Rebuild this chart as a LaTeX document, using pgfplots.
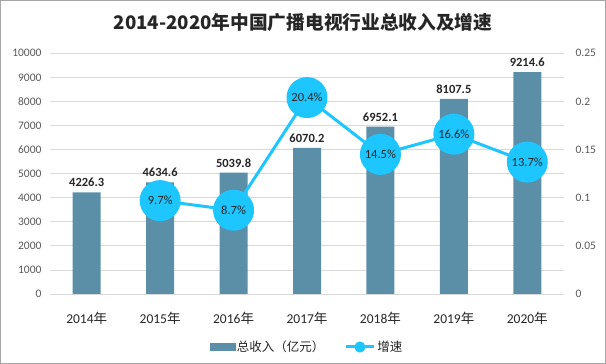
\documentclass[border=0pt]{standalone}
\usepackage{fontspec}
\setmainfont{Carlito}
\newfontfamily\cjk{Noto Sans CJK SC}
\usepackage{pgfplots}
\pgfplotsset{compat=1.18}
\definecolor{barc}{RGB}{91,143,167}
\definecolor{linec}{RGB}{30,198,255}
\definecolor{gridc}{RGB}{217,217,217}
\definecolor{tickc}{RGB}{89,89,89}
\begin{document}
\begin{tikzpicture}
\useasboundingbox (0pt,0pt) rectangle (606pt,364pt);
\draw[gray!70, line width=1pt] (0.5pt,0.5pt) rectangle (605.5pt,363.5pt);
\node[font=\cjk\bfseries\fontsize{18.7}{20}\selectfont, text=black!85] at (303pt,342pt) {2014-2020年中国广播电视行业总收入及增速};
\begin{axis}[
  at={(50pt,70pt)}, anchor=south west,
  scale only axis, width=514pt, height=240.7pt,
  xmin=-0.5, xmax=6.5, ymin=0, ymax=10000,
  axis line style={draw=none},
  major tick length=0pt,
  xtick=data,
  xticklabels={2014{\cjk 年},2015{\cjk 年},2016{\cjk 年},2017{\cjk 年},2018{\cjk 年},2019{\cjk 年},2020{\cjk 年}},
  xticklabel style={font=\fontsize{13.5}{15}\selectfont, text=black!85, yshift=-15pt},
  ytick={0,1000,...,10000},
  scaled y ticks=false,
  yticklabel style={font=\fontsize{11.5}{13}\selectfont, text=tickc, /pgf/number format/1000 sep={}, /pgf/number format/assume math mode=true, xshift=-5pt},
  ymajorgrids, grid style={gridc, line width=0.8pt},
]
\addplot[ybar, bar width=28pt, fill=barc, draw=none,
  nodes near coords={\pgfmathprintnumber[fixed,fixed zerofill,precision=1,1000 sep={},assume math mode=true]{\pgfplotspointmeta}},
  every node near coord/.append style={font=\bfseries\fontsize{12.5}{14}\selectfont, text=black!85, yshift=2pt}]
  coordinates {(0,4226.3) (1,4634.6) (2,5039.8) (3,6070.2) (4,6952.1) (5,8107.5) (6,9214.6)};
\end{axis}
\begin{axis}[
  at={(50pt,70pt)}, anchor=south west,
  scale only axis, width=514pt, height=240.7pt,
  xmin=-0.5, xmax=6.5, ymin=0, ymax=0.25,
  axis line style={draw=none},
  major tick length=0pt,
  xtick=\empty,
  ytick={0,0.05,0.1,0.15,0.2,0.25},
  yticklabels={0,0.05,0.1,0.15,0.2,0.25},
  yticklabel pos=right,
  yticklabel style={font=\fontsize{11.5}{13}\selectfont, text=tickc, anchor=west, xshift=8pt},
  legend style={at={(0.5,-53pt)}, anchor=center, draw=none, legend columns=2,
    font=\cjk\fontsize{12.5}{14}\selectfont, text=black!85,
    /tikz/every even column/.append style={column sep=18pt}},
]
\addlegendimage{legend image code/.code={\fill[barc] (0pt,-3.5pt) rectangle (25pt,3.5pt);}}
\addlegendentry{总收入（亿元）}
\addplot[linec, line width=3pt, mark=*, mark size=19pt, mark options={fill=linec, draw=linec},
  point meta=explicit symbolic,
  nodes near coords,
  every node near coord/.append style={font=\fontsize{12.5}{14}\selectfont, text=black!85, anchor=center},
  legend image code/.code={\draw[linec, line width=3pt] (0pt,0pt) -- (28pt,0pt); \fill[linec] (14pt,0pt) circle (4pt);}]
  coordinates {(1,0.097) [9.7\%] (2,0.087) [8.7\%] (3,0.204) [20.4\%] (4,0.145) [14.5\%] (5,0.166) [16.6\%] (6,0.137) [13.7\%]};
\addlegendentry{增速}
\end{axis}
\end{tikzpicture}
\end{document}
